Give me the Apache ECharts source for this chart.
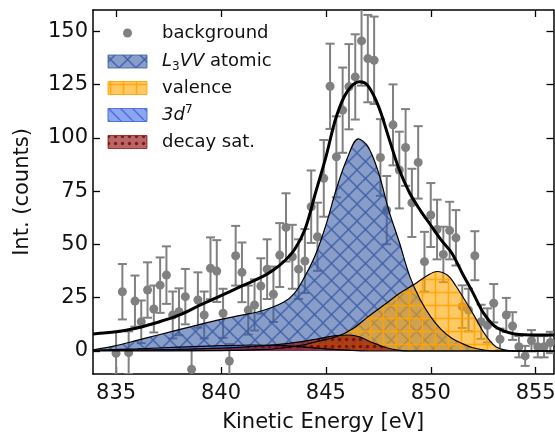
<!DOCTYPE html>
<html>
<head>
<meta charset="utf-8">
<script src="https://cdn.jsdelivr.net/npm/echarts@6/dist/echarts.min.js"></script>
<style>
  html, body { margin: 0; padding: 0; background: #fff; }
  #chart { width: 555px; height: 437px; }
</style>
</head>
<body>
<div id="chart"></div>
<script>
// measured points (background subtracted)
var energies = [835.0,835.3,835.6,835.9,836.2,836.5,836.8,837.1,837.4,837.7,
  838.0,838.3,838.6,838.9,839.2,839.5,839.8,840.1,840.4,840.7,
  841.0,841.3,841.6,841.9,842.2,842.5,842.8,843.1,843.4,843.7,
  844.0,844.3,844.6,844.9,845.2,845.5,845.8,846.1,846.4,846.7,
  847.0,847.3,847.6,847.9,848.2,848.5,848.8,849.1,849.4,849.7,
  850.0,850.3,850.6,850.9,851.2,851.5,851.8,852.1,852.4,852.7,
  853.0,853.3,853.6,853.9,854.2,854.5,854.8,855.1,855.4,855.7];
var counts = [-1.1,27.8,-0.8,23.4,13.7,28.6,19.7,30.9,35.6,16.9,
  18.4,25.5,-8.6,23.9,16.9,38.8,37.5,17.7,-4.7,44.7,
  36.9,19.2,21.6,30.5,38.4,26.6,45,58,44.2,38.4,
  42.2,67.7,53.6,81,124.2,91.1,113,124,128.6,145.5,
  137.2,136.4,90.8,66.1,106.1,84.9,95.5,69.5,88.5,41.9,
  63.8,57,45.3,56.5,53.1,20.8,19.2,44.7,13.7,12,
  22.4,5.5,16.9,11.7,2,-2.3,4.8,2,2,4];
var errors = [10,13,10,12,10,13,11,13,13.5,11,
  11,13,9,13,11,14.5,14.5,11.5,8,14,
  14,11.5,12,13,14,13,15,16,15,14,
  15,17,16,18,20,19,20,20,20,21,
  20.5,20.5,18,16,19,18,18,16,17,14,
  15,14,13,13.5,13,10,10,11.5,8,8,
  9,5,8,6.5,5,4.7,5,5,5,5];

// fit components
var totalE = [833.9,835,836,837,838,839,840,841,842,842.5,843,843.5,844,844.5,845,845.5,846,846.6,847,847.5,848,848.5,849,849.5,850,850.5,851,851.5,852,852.5,853,853.5,854,855,855.9];
var totalI = [8.0,9.0,10.8,13.5,16.8,21.5,26.0,30.5,35.0,38.0,42.0,47.5,57,74,91,110,121.5,126.3,124.5,115,100,85,74,66,59,52,46,36.5,27.5,18,12,9.3,8.0,7.5,7.5];
var atomicE = [833.9,835,836,837,838,839,840,841,842,843,843.5,844,844.5,845,845.5,846,846.55,847,847.5,848,848.5,849,849.5,850,850.5,851,851.5,852,852.5,853,855.9];
var atomicI = [0.5,2.5,5,7.5,10,12.5,14.8,16.8,19,23,27,35,45,59,76,90,99.5,96,84,66,51,35,24,16,10,6,3.5,1.5,0.5,0,0];
var valenceE = [833.9,840,842.3,843,843.9,844.5,845.5,846.3,847,847.9,848.5,849.3,849.8,850.3,850.8,851.2,851.8,852.1,852.5,852.8,853.1,853.5,854,855.9];
var valenceI = [0,0.2,0.8,1.5,2.8,4.3,6.7,10.6,16,22.5,27,31.8,35.2,37.3,35.5,30.5,21,16,9,5,2,0.5,0,0];
var d7E = [833.9,836,838,840,841.5,843,844,845,846,847,855.9];
var d7I = [0.3,1,1.8,2.5,2.8,2.5,1.8,1,0.4,0,0];
var decayE = [833.9,838,841,843,844.5,845.5,846.1,846.6,847.2,847.9,848.5,849,855.9];
var decayI = [0.3,0.8,1.8,3.3,5.5,7.2,7.5,6.6,4,1.5,0.3,0,0];

var xTicks = [835, 840, 845, 850, 855];
var yTicks = [0, 25, 50, 75, 100, 125, 150];

var FONT = 'DejaVu Sans';

function pairs(xs, ys) {
  return xs.map(function (x, i) { return [x, ys[i]]; });
}

// hatch fills drawn on a small tile
function hatch(size, bg, ink, width, draw) {
  var c = document.createElement('canvas');
  c.width = size; c.height = size;
  var g = c.getContext('2d');
  g.fillStyle = bg;
  g.fillRect(0, 0, size, size);
  g.strokeStyle = ink;
  g.fillStyle = ink;
  g.lineWidth = width;
  draw(g, size);
  return { image: c, repeat: 'repeat' };
}
function diag(g, s, dir) {
  for (var o = -s; o <= s; o += s) {
    g.beginPath();
    if (dir > 0) { g.moveTo(o, 0); g.lineTo(o + s, s); }
    else { g.moveTo(o + s, 0); g.lineTo(o, s); }
    g.stroke();
  }
}
var atomicFill = hatch(17, 'rgba(59,91,165,0.6)', 'rgba(59,91,165,0.75)', 1.6, function (g, s) {
  diag(g, s, 1); diag(g, s, -1);
});
var valenceFill = hatch(13, 'rgba(255,165,0,0.6)', 'rgba(255,165,0,0.85)', 1.6, function (g, s) {
  g.beginPath(); g.moveTo(s / 2, 0); g.lineTo(s / 2, s); g.stroke();
  g.beginPath(); g.moveTo(0, s / 2); g.lineTo(s, s / 2); g.stroke();
});
var d7Fill = hatch(12, 'rgba(65,105,225,0.6)', 'rgba(65,105,225,0.9)', 1.5, function (g, s) {
  diag(g, s, 1);
});
var decayFill = hatch(7, 'rgba(139,0,0,0.6)', 'rgba(110,0,0,0.75)', 1, function (g, s) {
  g.beginPath(); g.arc(s / 2, s / 2, 1.7, 0, Math.PI * 2); g.fill();
});

function area(name, xs, ys, fill) {
  return {
    name: name, type: 'line', data: pairs(xs, ys),
    smooth: 0.35, showSymbol: false, silent: true,
    lineStyle: { color: '#000', width: 1.2 },
    areaStyle: { color: fill, opacity: 1 }
  };
}

function renderErr(params, api) {
  var x = api.value(0), y = api.value(1), e = api.value(2);
  var hi = api.coord([x, y + e]), lo = api.coord([x, y - e]);
  var w = 4.5;
  var st = { stroke: '#808080', lineWidth: 2 };
  return {
    type: 'group',
    children: [
      { type: 'line', shape: { x1: hi[0], y1: hi[1], x2: lo[0], y2: lo[1] }, style: st },
      { type: 'line', shape: { x1: hi[0] - w, y1: hi[1], x2: hi[0] + w, y2: hi[1] }, style: st },
      { type: 'line', shape: { x1: lo[0] - w, y1: lo[1], x2: lo[0] + w, y2: lo[1] }, style: st }
    ]
  };
}

var axisBase = {
  type: 'value',
  axisLine: { show: true, onZero: false, lineStyle: { color: '#000', width: 1.5 } },
  axisTick: { show: true, inside: true, length: 7, lineStyle: { color: '#000', width: 1.3 } },
  splitLine: { show: false }
};

// legend rows drawn by hand (patterned swatches)
var legendRows = [
  { y: 33, fill: null, text: 'background' },
  { y: 61.5, fill: atomicFill, edge: 'rgba(59,91,165,0.8)', text: '{i|L}{s|3}{i|VV} atomic' },
  { y: 88, fill: valenceFill, edge: 'rgba(255,165,0,0.9)', text: 'valence' },
  { y: 115, fill: d7Fill, edge: 'rgba(65,105,225,0.9)', text: '{i|3d}{p|7}' },
  { y: 142, fill: decayFill, edge: 'rgba(139,0,0,0.7)', text: 'decay sat.' }
];
var graphics = [];
legendRows.forEach(function (r) {
  if (r.fill) {
    graphics.push({ type: 'rect', shape: { x: 108, y: r.y - 6.5, width: 39, height: 13 },
      style: { fill: r.fill, stroke: r.edge, lineWidth: 1 }, z: 10 });
  } else {
    graphics.push({ type: 'circle', shape: { cx: 127.5, cy: r.y, r: 4.5 },
      style: { fill: '#808080' }, z: 10 });
  }
  graphics.push({ type: 'text', x: 162, y: r.y, z: 10,
    style: { text: r.text, fill: '#111', fontSize: 18, fontFamily: FONT, verticalAlign: 'middle',
      rich: {
        i: { fontSize: 18, fontStyle: 'italic', fontFamily: FONT, fill: '#111', lineHeight: 22 },
        s: { fontSize: 12, fontFamily: FONT, fill: '#111', verticalAlign: 'bottom', lineHeight: 22 },
        p: { fontSize: 12, fontFamily: FONT, fill: '#111', verticalAlign: 'top', lineHeight: 22 }
      } } });
});

var chart = echarts.init(document.getElementById('chart'), null, { renderer: 'canvas' });
chart.setOption({
  animation: false,
  backgroundColor: '#fff',
  grid: { left: 93, right: 1.5, top: 10, bottom: 63, containLabel: false, outerBoundsMode: 'none' },
  xAxis: [
    Object.assign({}, axisBase, {
      min: 833.9, max: 855.85, position: 'bottom',
      name: 'Kinetic Energy [eV]', nameLocation: 'middle', nameGap: 38,
      nameTextStyle: { fontSize: 21, fontFamily: FONT, color: '#111' },
      axisTick: Object.assign({}, axisBase.axisTick, { customValues: xTicks }),
      axisLabel: { customValues: xTicks, fontSize: 21, fontFamily: FONT, color: '#111', margin: 9 }
    }),
    Object.assign({}, axisBase, {
      min: 833.9, max: 855.85, position: 'top',
      axisTick: Object.assign({}, axisBase.axisTick, { customValues: xTicks }),
      axisLabel: { show: false }
    })
  ],
  yAxis: [
    Object.assign({}, axisBase, {
      min: -10.8, max: 160, position: 'left',
      name: 'Int. (counts)', nameLocation: 'middle', nameGap: 60,
      nameTextStyle: { fontSize: 21, fontFamily: FONT, color: '#111' },
      axisTick: Object.assign({}, axisBase.axisTick, { customValues: yTicks }),
      axisLabel: { customValues: yTicks, fontSize: 21, fontFamily: FONT, color: '#111', margin: 5 }
    }),
    Object.assign({}, axisBase, {
      min: -10.8, max: 160, position: 'right',
      axisTick: Object.assign({}, axisBase.axisTick, { customValues: yTicks }),
      axisLabel: { show: false }
    })
  ],
  graphic: graphics,
  series: [
    area('L3VV atomic', atomicE, atomicI, atomicFill),
    area('valence', valenceE, valenceI, valenceFill),
    area('3d7', d7E, d7I, d7Fill),
    area('decay sat.', decayE, decayI, decayFill),
    {
      name: 'errors', type: 'custom', clip: true, silent: true,
      renderItem: renderErr,
      encode: { x: 0, y: 1 },
      data: energies.map(function (e, i) { return [e, counts[i], errors[i]]; })
    },
    {
      name: 'background', type: 'scatter', symbolSize: 9, silent: true,
      itemStyle: { color: '#808080', opacity: 1 },
      data: pairs(energies, counts)
    },
    {
      name: 'total', type: 'line', data: pairs(totalE, totalI),
      smooth: 0.35, showSymbol: false, silent: true, z: 5,
      lineStyle: { color: '#000', width: 3 }
    }
  ]
});
</script>
</body>
</html>
